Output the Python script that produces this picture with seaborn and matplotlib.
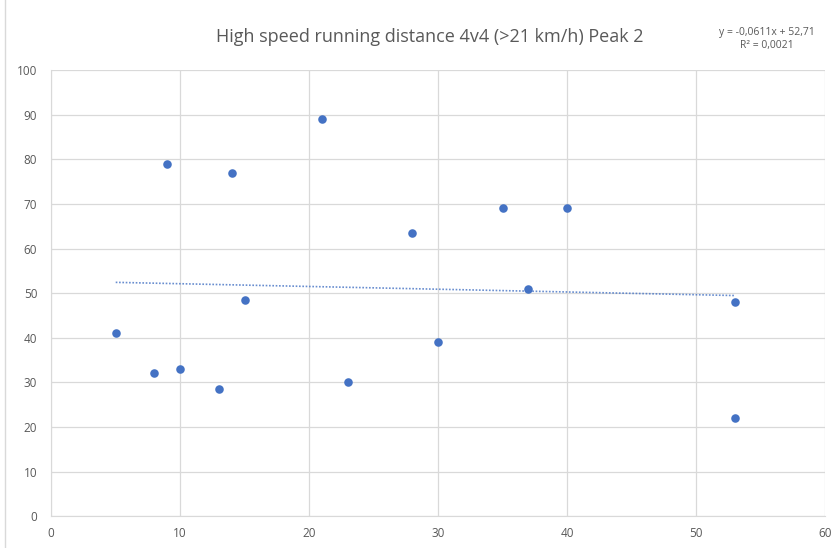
import numpy as np
import pandas as pd
import matplotlib
matplotlib.use("Agg")
import matplotlib.pyplot as plt
import seaborn as sns
from matplotlib.patches import Rectangle

# data
minutes = [5, 8, 9, 10, 13, 14, 15, 21, 23, 28, 30, 35, 37, 40, 53, 53]
hsr_distance = [41, 32, 79, 33, 28.5, 77, 48.5, 89, 30, 63.5, 39, 69, 51, 69, 48, 22]
title = "High speed running distance 4v4 (>21 km/h) Peak 2"
equation = "y = -0,0611x + 52,71\nR² = 0,0021"

df = pd.DataFrame({"x": minutes, "y": hsr_distance})

sns.set_style("white")
plt.rcParams['font.family'] = ['Open Sans', 'DejaVu Sans']

blue = "#4472C4"
fig = plt.figure(figsize=(8.4, 5.48), dpi=100)
ax = fig.add_axes([0.061, 0.058, 0.921, 0.814])

# trendline
sns.regplot(data=df, x="x", y="y", ax=ax, scatter=False, ci=None, truncate=True,
            line_kws=dict(color=blue, lw=1.2, ls=(0, (1, 1)), alpha=0.8))
sns.scatterplot(data=df, x="x", y="y", ax=ax, color=blue, s=38, edgecolor=blue,
                linewidth=0, zorder=3)

ax.set_xlim(0, 60)
ax.set_ylim(0, 100)
ax.set_xticks(range(0, 61, 10))
ax.set_yticks(range(0, 101, 10))
ax.grid(True, color="#d9d9d9", lw=0.9)
ax.set_axisbelow(True)
for s in ["top", "right"]:
    ax.spines[s].set_visible(False)
for s in ["left", "bottom"]:
    ax.spines[s].set_color("#d9d9d9")
ax.tick_params(length=0, labelsize=8.5, colors="#595959")
ax.tick_params(axis="y", pad=10)
ax.tick_params(axis="x", pad=8)
ax.set_xlabel("")
ax.set_ylabel("")

fig.text(0.512, 0.932, title, ha="center", va="center", fontsize=13, color="#595959")
fig.text(0.913, 0.929, equation, ha="center", va="center", fontsize=7.5, color="#595959",
         linespacing=1.3)

# outer chart border
fig.patches.append(Rectangle((0.006, -0.01), 1.1, 1.1, transform=fig.transFigure,
                             fill=False, edgecolor="#d9d9d9", lw=1.0))

fig.savefig("out.png", dpi=100)
